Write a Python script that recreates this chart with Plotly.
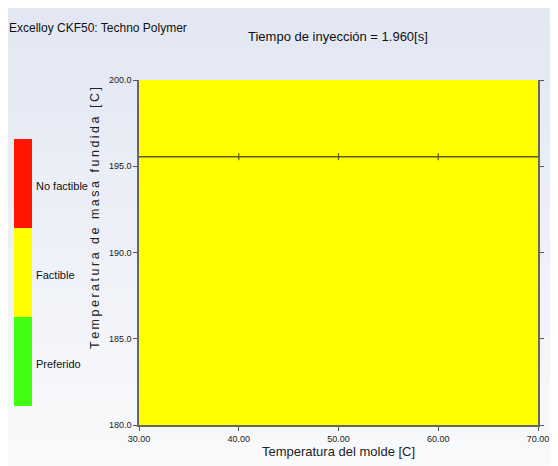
import plotly.graph_objects as go

# ---- data ----
x_range = [30.0, 70.0]            # Temperatura del molde [C]
y_range = [180.0, 200.0]          # Temperatura de masa fundida [C]
x_ticks = [30, 40, 50, 60, 70]
y_ticks = [180, 185, 190, 195, 200]
boundary_y = 195.55               # contour line
boundary_tick_x = [40, 50, 60]
legend_labels = ["No factible", "Factible", "Preferido"]
legend_colors = ["#ff1400", "#ffff00", "#40ff10"]
material = "Excelloy CKF50: Techno Polymer"
plot_title = "Tiempo de inyección = 1.960[s]"

OFF = 8  # page body margin
W, H = 558, 466
L, R, T, B = 131, 28, 72, 49
pw, ph = W - L - R, H - T - B

def px(xp):   # page pixel -> paper
    return (xp - OFF - L) / pw

def py(yp):
    return (H - B - (yp - OFF)) / ph

fig = go.Figure()

# feasible region (whole domain is "Factible")
fig.add_trace(go.Scatter(
    x=[x_range[0], x_range[1], x_range[1], x_range[0], x_range[0]],
    y=[y_range[0], y_range[0], y_range[1], y_range[1], y_range[0]],
    fill="toself", fillcolor=legend_colors[1], mode="none",
    hoverinfo="skip", showlegend=False))

# boundary line
fig.add_trace(go.Scatter(
    x=x_range, y=[boundary_y, boundary_y], mode="lines",
    line=dict(color="#5c5c00", width=1.5), showlegend=False, hoverinfo="skip"))
fig.add_trace(go.Scatter(
    x=boundary_tick_x, y=[boundary_y] * len(boundary_tick_x), mode="markers",
    marker=dict(symbol="line-ns", size=5, line=dict(color="#5c5c00", width=1.2)),
    showlegend=False, hoverinfo="skip"))

shapes = []
# background gradient panel (whole paper)
nb = 24
top_c = (226, 231, 243)
bot_c = (249, 250, 251)
for i in range(nb):
    a = OFF + (H + 4) * i / nb
    b = OFF + (H + 4) * (i + 1) / nb
    t = i / (nb - 1)
    c = tuple(round(top_c[k] + (bot_c[k] - top_c[k]) * t) for k in range(3))
    shapes.append(dict(type="rect", xref="paper", yref="paper",
                       x0=px(OFF - 2), x1=px(W + OFF + 2), y0=py(b + 1), y1=py(a),
                       fillcolor="rgb(%d,%d,%d)" % c, line=dict(width=0),
                       layer="below"))

# legend bar
leg_top, leg_h = 139, 89
annotations = []
for i, (lab, col) in enumerate(zip(legend_labels, legend_colors)):
    a = leg_top + i * leg_h
    b = a + leg_h
    shapes.append(dict(type="rect", xref="paper", yref="paper",
                       x0=px(14), x1=px(32), y0=py(b), y1=py(a),
                       fillcolor=col, line=dict(width=0), layer="above"))
    annotations.append(dict(x=px(34), y=py((a + b) / 2 + 2), xref="paper", yref="paper",
                            text=lab, showarrow=False, xanchor="left", yanchor="middle",
                            font=dict(size=11, color="#111")))

annotations.append(dict(x=px(7), y=py(28), xref="paper", yref="paper", text=material,
                        showarrow=False, xanchor="left", yanchor="middle",
                        font=dict(size=12, color="#111")))
annotations.append(dict(x=px(338), y=py(37), xref="paper", yref="paper", text=plot_title,
                        showarrow=False, xanchor="center", yanchor="middle",
                        font=dict(size=13, color="#111")))
ytitle = "\u2009".join("Temperatura de masa fundida [C]")
annotations.append(dict(x=px(95), y=py(351), xref="paper", yref="paper", text=ytitle,
                        showarrow=False, xanchor="center", yanchor="bottom", textangle=-90,
                        font=dict(size=12.5, color="#222")))

axis_common = dict(showgrid=False, zeroline=False, showline=True, linecolor="#666",
                   linewidth=1.5, ticks="outside", ticklen=4, tickcolor="#555",
                   tickfont=dict(size=9, color="#222"))

fig.update_layout(
    width=W, height=H, margin=dict(l=L, r=R, t=T, b=B),
    paper_bgcolor="white", plot_bgcolor="rgba(0,0,0,0)",
    font=dict(family="Liberation Sans, Arial, sans-serif"),
    showlegend=False, shapes=shapes, annotations=annotations,
    xaxis=dict(range=x_range, tickvals=x_ticks,
               ticktext=["%.2f" % v for v in x_ticks],
               title=dict(text="Temperatura del molde [C]", font=dict(size=13, color="#222"),
                          standoff=2),
               mirror=False, **axis_common),
    yaxis=dict(range=y_range, tickvals=y_ticks,
               ticktext=["%.1f" % v for v in y_ticks],
               mirror="ticks", **axis_common),
)

fig.write_html("out.html")
